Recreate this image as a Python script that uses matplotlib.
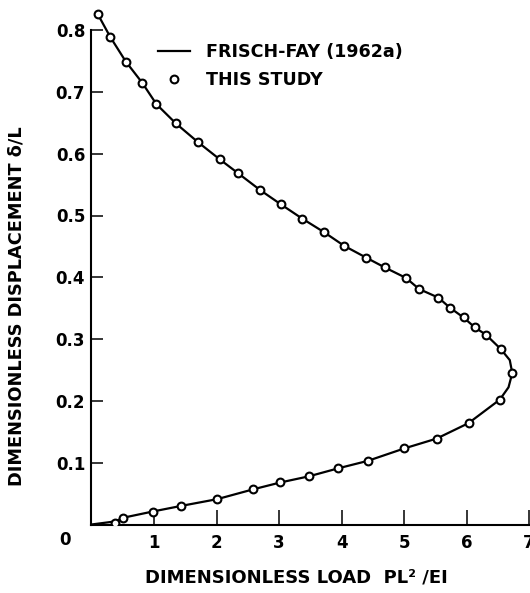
import matplotlib
matplotlib.use('Agg')
import matplotlib.pyplot as plt

# Frisch-Fay (1962a) solution, read along the curve from the origin
frisch_load = [0.0, 0.38, 0.51, 0.98, 1.43, 2.01, 2.59, 3.02, 3.48, 3.95, 4.42,
               5.00, 5.52, 6.03, 6.53, 6.67, 6.73, 6.69, 6.545, 6.31, 6.13,
               5.95, 5.73, 5.55, 5.24, 5.03, 4.69, 4.39, 4.04, 3.72, 3.37,
               3.03, 2.70, 2.35, 2.05, 1.70, 1.35, 1.04, 0.81, 0.55, 0.30, 0.10]
frisch_disp = [0.0, 0.005, 0.011, 0.021, 0.030, 0.041, 0.057, 0.068, 0.078, 0.091, 0.103,
               0.123, 0.139, 0.164, 0.202, 0.222, 0.245, 0.266, 0.284, 0.307, 0.319,
               0.335, 0.351, 0.367, 0.381, 0.399, 0.416, 0.432, 0.451, 0.473, 0.495,
               0.518, 0.541, 0.568, 0.591, 0.619, 0.649, 0.680, 0.715, 0.749, 0.789, 0.826]

# this study
study_load = [0.38, 0.51, 0.98, 1.43, 2.01, 2.59, 3.02, 3.48, 3.95, 4.42, 5.00,
              5.52, 6.03, 6.53, 6.73, 6.545, 6.31, 6.13, 5.95, 5.73, 5.55,
              5.24, 5.03, 4.69, 4.39, 4.04, 3.72, 3.37, 3.03, 2.70, 2.35,
              2.05, 1.70, 1.35, 1.04, 0.81, 0.55, 0.30, 0.10]
study_disp = [0.002, 0.011, 0.021, 0.030, 0.041, 0.057, 0.068, 0.078, 0.091, 0.103, 0.123,
              0.139, 0.164, 0.202, 0.245, 0.284, 0.307, 0.319, 0.335, 0.351, 0.367,
              0.381, 0.399, 0.416, 0.432, 0.451, 0.473, 0.495, 0.518, 0.541, 0.568,
              0.591, 0.619, 0.649, 0.680, 0.715, 0.749, 0.789, 0.826]

x_ticks = [1, 2, 3, 4, 5, 6, 7]
y_ticks = [0.1, 0.2, 0.3, 0.4, 0.5, 0.6, 0.7, 0.8]

plt.rcParams['font.family'] = ['DejaVu Sans']
plt.rcParams['font.weight'] = 'bold'
plt.rcParams['font.size'] = 12

W, H = 530, 593
fig = plt.figure(figsize=(W / 100, H / 100), dpi=100)
x0_px, y0_px = 91.45, 524.5
ax = fig.add_axes([x0_px / W, (H - y0_px) / H, (W - x0_px) / W, y0_px / H])
ax.set_xlim(0, (W - x0_px) / 62.53)
ax.set_ylim(0, y0_px / 618)

ax.plot(frisch_load, frisch_disp, color='black', lw=1.6, label='FRISCH-FAY (1962a)', zorder=2)
ax.plot(study_load, study_disp, 'o', ms=5.6, mfc='white', mec='black', mew=1.5,
        label='THIS STUDY', zorder=3)

for s in ['top', 'right']:
    ax.spines[s].set_visible(False)
ax.spines['left'].set_bounds(0, 0.8)
ax.spines['bottom'].set_bounds(0, 7)
ax.spines['left'].set_linewidth(1.5)
ax.spines['bottom'].set_linewidth(1.5)

ax.set_xticks(x_ticks)
ax.set_xticklabels([str(t) for t in x_ticks])
ax.set_yticks(y_ticks)
ax.set_yticklabels(['%.1f' % t for t in y_ticks])
ax.tick_params(axis='x', direction='in', length=10.5, width=1.1, pad=6.5)
ax.tick_params(axis='y', direction='in', length=8.5, width=1.1, pad=4.5)

fig.text(65 / W, 1 - 540 / H, '0', ha='center', va='center', fontsize=12, fontweight='bold')

ax.set_xlabel('DIMENSIONLESS LOAD  PL² /EI', va='center', fontsize=13, fontweight='bold')
ax.xaxis.set_label_coords((296 - x0_px) / (W - x0_px), (y0_px - 577) / y0_px)
ax.set_ylabel('DIMENSIONLESS DISPLACEMENT δ/L', va='center', fontsize=12.8, fontweight='bold')
ax.yaxis.set_label_coords((17 - x0_px) / (W - x0_px), (y0_px - 306) / y0_px)

ax.legend(loc='upper left', bbox_to_anchor=(158 / W, 1 - 43 / H), bbox_transform=fig.transFigure,
          frameon=False, borderpad=0, borderaxespad=0, handlelength=1.8, handletextpad=0.95,
          labelspacing=0.55, prop={'size': 12.6, 'weight': 'bold'})

fig.savefig('out.png', dpi=100)
